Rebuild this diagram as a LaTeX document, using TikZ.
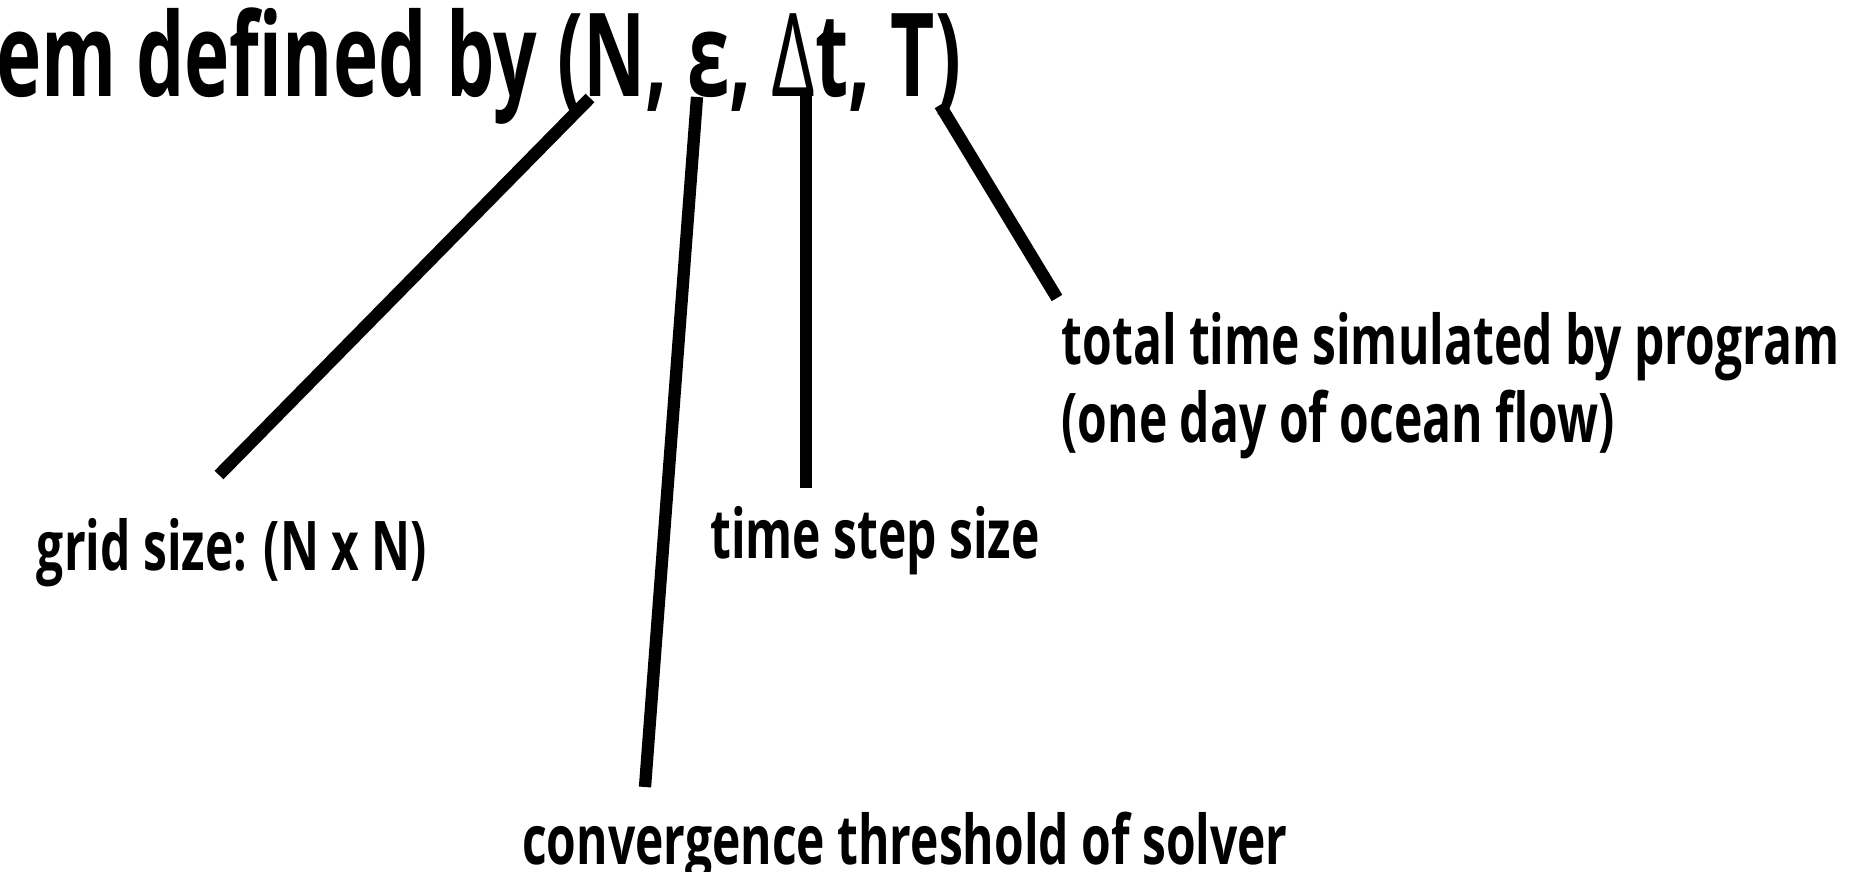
\documentclass[tikz,border=0pt]{standalone}
\usepackage{fontspec}
\setmainfont{Open Sans}[FakeStretch=0.70]
\newfontfamily\headfont{Open Sans}[FakeStretch=0.66]

\begin{document}
\begin{tikzpicture}[
  x=0.1mm,
  y=-0.1mm,
  every node/.style={font=\bfseries\fontsize{19.5}{23}\selectfont, inner sep=0pt},
  heading/.style={font=\headfont\bfseries\fontsize{33}{40}\selectfont},
  leader/.style={line width=3.5pt, line cap=butt}
]
  % ---- page frame, the heading runs off its left edge
  \useasboundingbox (0,0) rectangle (1858,871);

  % ---- heading ---------------------------------------------------------
  \node[heading, anchor=base east] (head) at (962,96)
    {em defined by (N, ε, {\mdseries Δ}t, T)};

  % feet of the leaders under the four parameters
  \coordinate (pN)   at (590,98);
  \coordinate (pEps) at (697,97);
  \coordinate (pDt)  at (806,90);
  \coordinate (pT)   at (940,105);

  % ---- labels ----------------------------------------------------------
  \node[anchor=base] (grid) at (232,570) {grid size: (N x N)};
  \node[anchor=base] (dt)   at (875,558) {time step size};
  \node[anchor=base west] (total) at (1061,364) {total time simulated by program};
  \node[anchor=base west] (flow)  at (1061,442) {(one day of ocean flow)};
  \node[anchor=base] (conv) at (905,864) {convergence threshold of solver};

  % free ends of the leaders, just above each label
  \coordinate (eN)   at (219,475);
  \coordinate (eEps) at (645,787);
  \coordinate (eDt)  at (806,488);
  \coordinate (eT)   at (1057,298);

  % ---- leaders ---------------------------------------------------------
  \draw[leader] (pN)   -- (eN);
  \draw[leader] (pEps) -- (eEps);
  \draw[leader] (pDt)  -- (eDt);
  \draw[leader] (pT)   -- (eT);
\end{tikzpicture}
\end{document}
